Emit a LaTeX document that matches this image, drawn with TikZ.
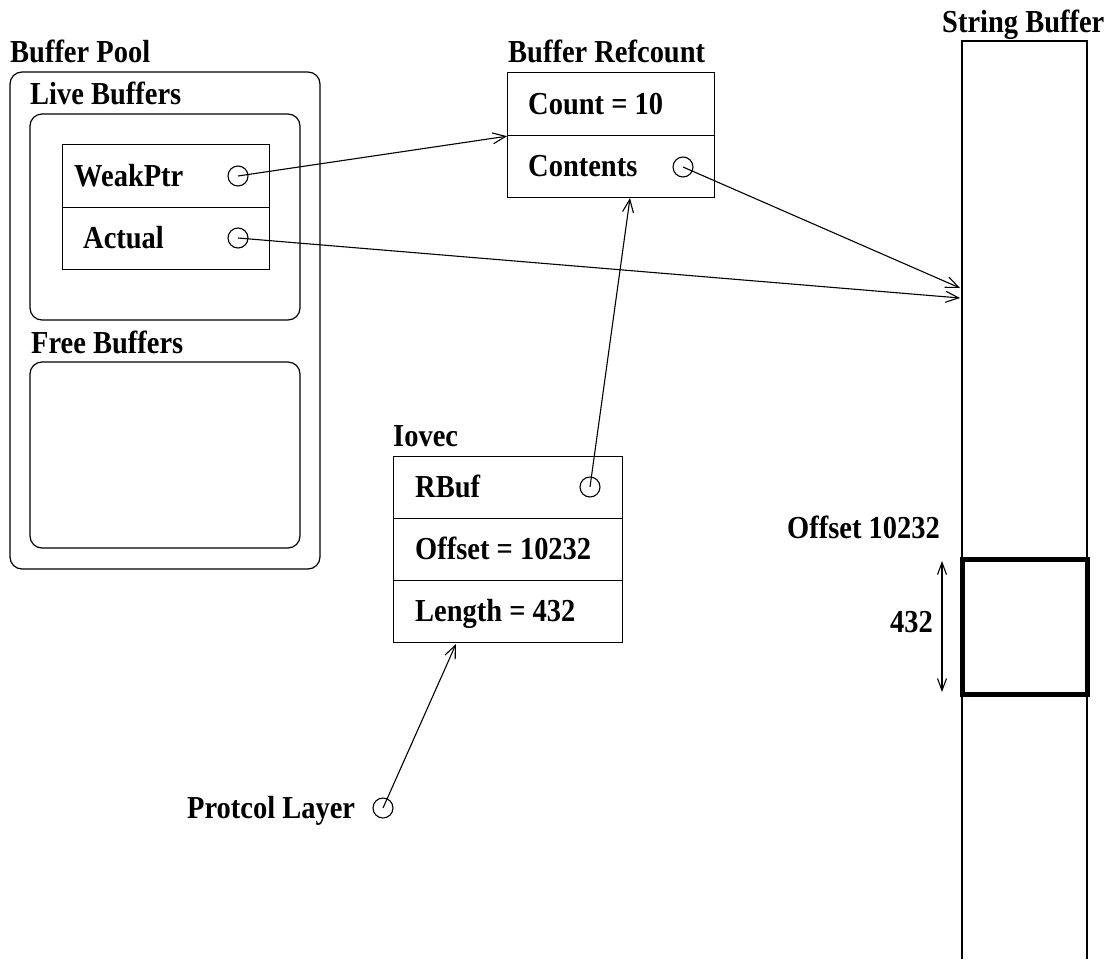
\documentclass[tikz,border=0pt]{standalone}
\usepackage{fontspec}
\usepackage{graphicx}
\setmainfont{Liberation Serif}
\usetikzlibrary{arrows.meta}
\newcommand\cond[1]{\scalebox{0.89}[1]{#1}}
\tikzset{
  lbl/.style={anchor=base west, inner sep=0pt, font=\bfseries\fontsize{32}{36}\selectfont},
  cell/.style={draw, line width=1.2pt, inner sep=0pt, anchor=north west},
  pool/.style={draw, line width=1.2pt, rounded corners=12pt},
  ptr/.style={draw, circle, line width=1.1pt, minimum size=20pt, inner sep=0pt},
  link/.style={line width=1.1pt, -{Straight Barb[length=13pt,width=11pt,line width=1.1pt]}},
  span/.style={line width=1.1pt, {Straight Barb[length=12pt,width=9pt,line width=1.1pt]}-{Straight Barb[length=12pt,width=9pt,line width=1.1pt]}},
}
\begin{document}
\begin{tikzpicture}[x=1pt,y=-1pt]
\useasboundingbox (0,0) rectangle (1113,959);

% Buffer pool with its live and free lists
\node[lbl] (poolT) at (10,62) {\cond{Buffer Pool}};
\draw[pool] (10,72) rectangle (320,569);
\node[lbl] (liveT) at (30,104) {\cond{Live Buffers}};
\draw[pool] (30,114) rectangle (300,320);
\node[lbl] (freeT) at (31,353) {\cond{Free Buffers}};
\draw[pool] (30,362) rectangle (300,548);

% buffer record
\node[cell, minimum width=207pt, minimum height=63pt] (weak) at (62,144) {};
\node[cell, minimum width=207pt, minimum height=62pt] (actual) at (62,207) {};
\node[lbl] (weakT) at (74,186) {\cond{WeakPtr}};
\node[lbl] (actualT) at (83,248) {\cond{Actual}};
\node[ptr] (weakP) at (238,176) {};
\node[ptr] (actualP) at (238,238) {};

% refcount block
\node[lbl] (refT) at (508,62) {\cond{Buffer Refcount}};
\node[cell, minimum width=207pt, minimum height=63pt] (count) at (507,72) {};
\node[cell, minimum width=207pt, minimum height=62pt] (contents) at (507,135) {};
\node[lbl] (countT) at (528,114) {\cond{Count = 10}};
\node[lbl] (contentsT) at (528,176) {\cond{Contents}};
\node[ptr] (contentsP) at (683,167) {};

% iovec
\node[lbl] (iovT) at (393,446) {\cond{Iovec}};
\node[cell, minimum width=229pt, minimum height=62pt] (rbuf) at (393,456) {};
\node[cell, minimum width=229pt, minimum height=62pt] (offset) at (393,518) {};
\node[cell, minimum width=229pt, minimum height=62pt] (length) at (393,580) {};
\node[lbl] (rbufT) at (415,497) {\cond{RBuf}};
\node[lbl] (offsetT) at (415,559) {\cond{Offset = 10232}};
\node[lbl] (lengthT) at (415,621) {\cond{Length = 432}};
\node[ptr] (rbufP) at (590,487) {};

% protocol layer
\node[lbl] (protoT) at (187,818) {\cond{Protcol Layer}};
\node[ptr] (protoP) at (383,808) {};

% string buffer strip, open at the bottom
\node[lbl] (strT) at (942,32) {\cond{String Buffer}};
\coordinate (sbBL) at (962,959);
\coordinate (sbTL) at (962,41);
\coordinate (sbTR) at (1087,41);
\coordinate (sbBR) at (1087,959);
\draw[line width=1.2pt] (sbBL) -- (sbTL) -- (sbTR) -- (sbBR);

% referenced slice
\draw[line width=5pt] (962.5,559.5) rectangle (1087.5,694);
\coordinate (sliceTop) at (942,561);
\coordinate (sliceBot) at (942,692);
\draw[span] (sliceTop) -- (sliceBot);
\node[lbl] (sliceLen) at (890,632) {\cond{432}};
\node[lbl] (sliceOff) at (787,538) {\cond{Offset 10232}};

% pointers
\coordinate (sbA) at (960,298);
\coordinate (sbC) at (960,288);
\coordinate (refIn) at (630,198);
\coordinate (iovIn) at (456,644);
\draw[link] (weakP.center) -- (count.south west);
\draw[link] (actualP.center) -- (sbA);
\draw[link] (contentsP.center) -- (sbC);
\draw[link] (rbufP.center) -- (refIn);
\draw[link] (protoP.center) -- (iovIn);
\end{tikzpicture}
\end{document}
